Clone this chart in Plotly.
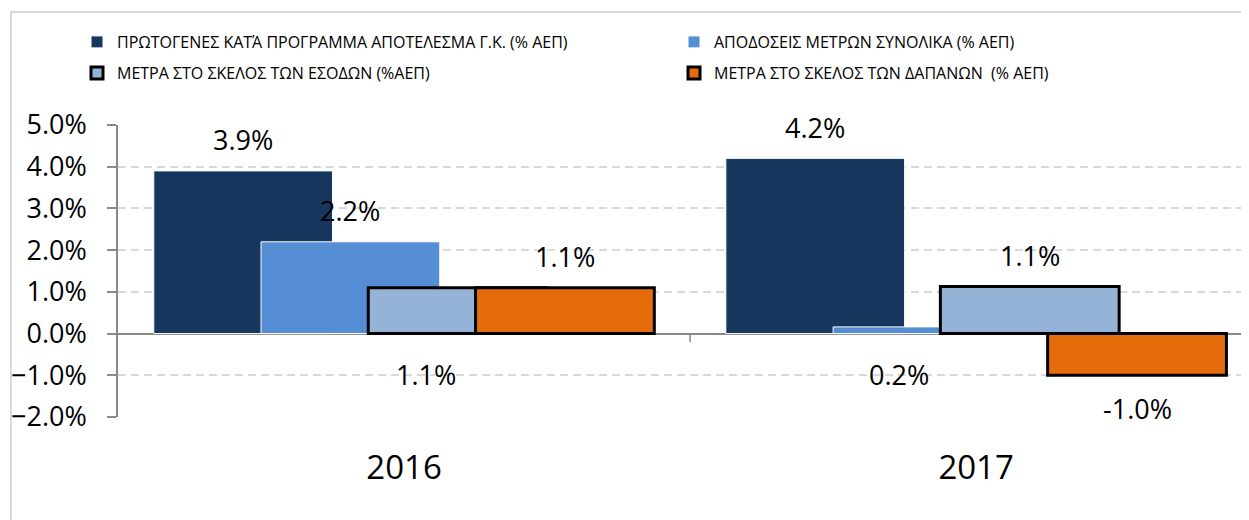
import plotly.graph_objects as go

# ---- data ----
years = ["2016", "2017"]
series_names = [
    "ΠΡΩΤΟΓΕΝΕΣ ΚΑΤΆ ΠΡΟΓΡΑΜΜΑ ΑΠΟΤΕΛΕΣΜΑ Γ.Κ. (% ΑΕΠ)",
    "ΑΠΟΔΟΣΕΙΣ ΜΕΤΡΩΝ ΣΥΝΟΛΙΚΑ (% ΑΕΠ)",
    "ΜΕΤΡΑ ΣΤΟ ΣΚΕΛΟΣ ΤΩΝ ΕΣΟΔΩΝ (%ΑΕΠ)",
    "ΜΕΤΡΑ ΣΤΟ ΣΚΕΛΟΣ ΤΩΝ ΔΑΠΑΝΩΝ  (% ΑΕΠ)",
]
primary_balance = [0.039, 0.042]
measures_total = [0.022, 0.0016]
revenue_measures = [0.011, 0.0113]
expenditure_measures = [0.011, -0.010]
y_ticks = [-0.02, -0.01, 0.0, 0.01, 0.02, 0.03, 0.04, 0.05]

# ---- style ----
colors = ["#17375E", "#558ED5", "#95B3D7", "#E46C0A"]
line_colors = ["#ffffff", "#ffffff", "#000000", "#000000"]
line_widths = [1, 1, 3, 3]
# label placement: "out" = outside end of bar, "base" = just below the zero line
label_modes = [["out", "out"], ["out", "base"], ["base", "out"], ["out", "out"]]
base_label_xshift = [-32, -23]  # per category
FONT = "Open Sans"
W, H = 1241, 512  # page adds an 8px body margin

values = [primary_balance, measures_total, revenue_measures, expenditure_measures]
bar_w = 0.3125
step = 0.1875
start = -0.4375
x_idx = list(range(len(years)))

# legend slots (left edge of each legend box, vertical centre), in figure pixels
legend_ids = ["legend", "legend2", "legend3", "legend4"]
legend_pos = [(69, 34), (666, 34), (69, 65), (666, 65)]

fig = go.Figure()
for i, (name, vals) in enumerate(zip(series_names, values)):
    fig.add_trace(go.Bar(
        x=x_idx, y=vals, name=name,
        offset=start + i * step, width=bar_w,
        marker=dict(color=colors[i], line=dict(color=line_colors[i], width=line_widths[i])),
        legend=legend_ids[i],
        hovertemplate="%{y:.1%}<extra></extra>",
    ))

# data labels
annotations = []
for i, vals in enumerate(values):
    for j, v in enumerate(vals):
        xc = x_idx[j] + start + i * step + bar_w / 2
        mode = label_modes[i][j]
        if mode == "base":
            annotations.append(dict(x=xc, y=0, text=f"{v:.1%}", showarrow=False,
                                    xshift=base_label_xshift[j], yshift=-41, yanchor="middle",
                                    font=dict(size=27, color="#000", family=FONT)))
        else:
            annotations.append(dict(x=xc, y=v, text=f"{v:.1%}", showarrow=False,
                                    yshift=31 if v >= 0 else -33, yanchor="middle",
                                    font=dict(size=27, color="#000", family=FONT)))

shapes = [
    # category separator tick on the zero line
    dict(type="line", xref="x", yref="y", x0=0.5, x1=0.5, y0=0, y1=-0.002,
         line=dict(color="#898989", width=1.5)),
    # chart outer border
    dict(type="rect", xref="paper", yref="paper",
         x0=(3 - 110) / 1131, x1=1.05, y0=-0.5, y1=(409 - 4) / 292,
         line=dict(color="#d9d9d9", width=2), fillcolor="rgba(0,0,0,0)", layer="below"),
]

layout_legends = {}
for lid, (lx, ly) in zip(legend_ids, legend_pos):
    layout_legends[lid] = dict(
        orientation="h", xref="container", yref="container",
        x=lx / W, y=1 - ly / H, xanchor="left", yanchor="middle",
        itemwidth=30, font=dict(size=16, family=FONT, color="#000"),
        bgcolor="rgba(0,0,0,0)",
    )

fig.update_layout(
    width=W, height=H,
    margin=dict(l=110, r=0, t=117, b=103),
    paper_bgcolor="white", plot_bgcolor="white",
    barmode="overlay",
    font=dict(family=FONT, color="#000"),
    annotations=annotations,
    shapes=shapes,
    showlegend=True,
    **layout_legends,
)

fig.update_xaxes(
    range=[-0.5, 1.477], tickvals=x_idx, ticktext=years,
    showgrid=False, zeroline=False, showline=False, ticks="",
    tickfont=dict(size=33, family=FONT, color="#000"), ticklabelstandoff=28,
)
fig.update_yaxes(
    range=[-0.02, 0.05], tickvals=y_ticks, tickformat=".1%",
    showgrid=True, gridcolor="#d9d9d9", gridwidth=1.5, griddash="8px,5px",
    zeroline=True, zerolinecolor="#898989", zerolinewidth=1.5,
    showline=True, linecolor="#898989", linewidth=1.5,
    ticks="outside", ticklen=9, tickcolor="#898989", tickwidth=1.5,
    tickfont=dict(size=27, family=FONT, color="#000"), ticklabelstandoff=15,
)

fig.write_html("out.html")
